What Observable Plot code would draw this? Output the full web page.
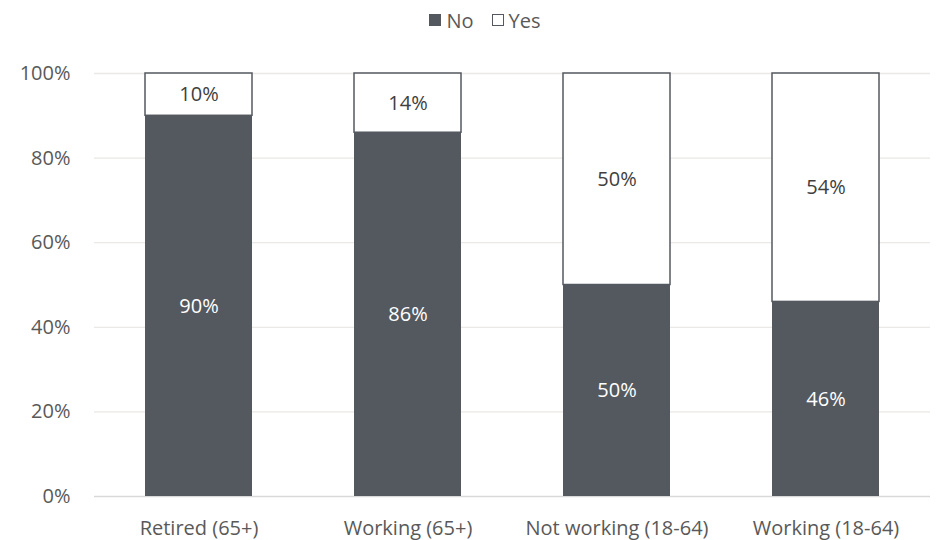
<!DOCTYPE html>
<html>
<head>
<meta charset="utf-8">
<script src="https://cdn.jsdelivr.net/npm/d3@7"></script>
<script src="https://cdn.jsdelivr.net/npm/@observablehq/plot@0.6"></script>
<style>
  html, body { margin: 0; padding: 0; background: #fff; }
  body { width: 936px; height: 540px; font-family: "Open Sans", sans-serif; position: relative; }
  .legend { position: absolute; top: 0; left: 0; width: 936px; height: 40px; z-index: 1;
            display: flex; justify-content: center; align-items: center;
            gap: 18px; font-size: 20px; color: #595959; padding-left: 34px; box-sizing: border-box; }
  .legend span { display: inline-flex; align-items: center; gap: 5px; }
  .sw { width: 12px; height: 12px; box-sizing: border-box; display: inline-block; }
  #chart svg { display: block; }
</style>
</head>
<body>
<div class="legend">
  <span><i class="sw" style="background:#545960"></i>No</span>
  <span><i class="sw" style="background:#fff;border:1.5px solid #545960"></i>Yes</span>
</div>
<div id="chart"></div>
<script>
const categories = ["Retired (65+)", "Working (65+)", "Not working (18-64)", "Working (18-64)"];
const noValues = [90, 86, 50, 46];
const yesValues = [10, 14, 50, 54];
const yTicks = [0, 20, 40, 60, 80, 100];

const dark = "#545960";

// Stack "No" at the bottom and "Yes" on top of it for each group
const rows = categories.flatMap((c, i) => [
  {category: c, answer: "No", value: noValues[i], y1: 0, y2: noValues[i]},
  {category: c, answer: "Yes", value: yesValues[i], y1: noValues[i], y2: noValues[i] + yesValues[i]}
]);

const chart = Plot.plot({
  width: 936,
  height: 540,
  marginTop: 73,
  marginBottom: 44,
  marginLeft: 94,
  marginRight: 6,
  style: {fontFamily: "'Open Sans', sans-serif", fontSize: "20px", color: "#595959", background: "#fff"},
  x: {domain: categories, paddingInner: 0.49, paddingOuter: 0.245, label: null},
  y: {domain: [0, 100], label: null},
  marks: [
    Plot.ruleY(yTicks.filter(d => d > 0), {stroke: "#ebe8e5", strokeWidth: 1.3}),
    Plot.ruleY([0], {stroke: "#d9d9d9", strokeWidth: 1.5}),
    Plot.rectY(rows, {
      x: "category", y1: "y1", y2: "y2",
      fill: d => d.answer === "No" ? dark : "#ffffff",
      stroke: d => d.answer === "No" ? "none" : dark,
      strokeWidth: 1.5,
      inset: 0
    }),
    Plot.text(rows, {
      x: "category",
      y: d => (d.y1 + d.y2) / 2,
      text: d => d.value + "%",
      fill: d => d.answer === "No" ? "#ffffff" : "#404040",
      fontSize: 20
    }),
    Plot.axisY({ticks: yTicks, tickFormat: d => d + "%", tickSize: 0, tickPadding: 24, fontSize: 20}),
    Plot.axisX({tickSize: 0, tickPadding: 24, fontSize: 20})
  ]
});
document.getElementById("chart").append(chart);
</script>
</body>
</html>
